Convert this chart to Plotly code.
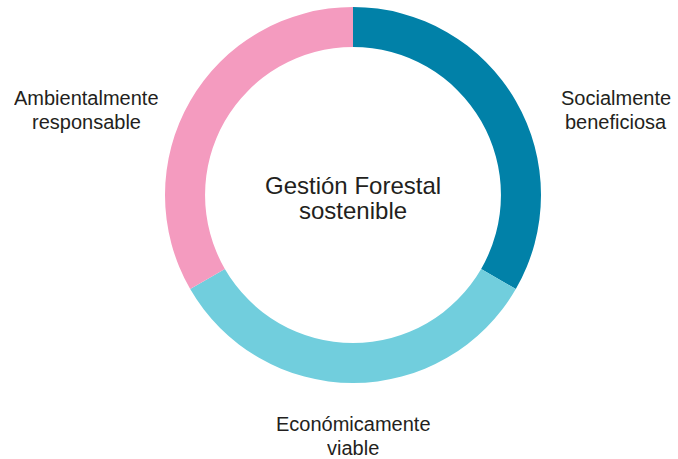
import plotly.graph_objects as go

categories = ["Socialmente beneficiosa", "Económicamente viable", "Ambientalmente responsable"]
values = [1, 1, 1]
colors = ["#0181A8", "#71CEDD", "#F49BBF"]
center_lines = ["Gestión Forestal", "sostenible"]

W, H = 678, 459
cx, cy, R = 353, 195, 188

fig = go.Figure(go.Pie(
    labels=categories, values=values, sort=False, direction="clockwise", rotation=0,
    hole=0.787, marker=dict(colors=colors, line=dict(width=0)),
    textinfo="none", hoverinfo="label", showlegend=False,
    domain=dict(x=[(cx - R) / W, (cx + R) / W], y=[(H - cy - R) / H, (H - cy + R) / H]),
))

font_family = "Liberation Sans, Arial, sans-serif"
txt_color = "#231F20"

def ann(text, x_px, y_px, size, height=None):
    fig.add_annotation(text=text, x=x_px / W, y=1 - y_px / H, xref="paper", yref="paper",
                       xanchor="center", yanchor="middle", showarrow=False, height=height,
                       font=dict(family=font_family, size=size, color=txt_color))

label_lines = [
    ("Socialmente", 616, 98), ("beneficiosa", 616, 122),
    ("Económicamente", 353, 424), ("viable", 353, 448),
    ("Ambientalmente", 86, 98), ("responsable", 86, 122),
]
for t, x, y in label_lines:
    ann(t, x, y, 20, height=22)

ann(center_lines[0], cx, 185, 24, height=22)
ann(center_lines[1], cx, 210, 24, height=22)

fig.update_layout(width=W, height=H, margin=dict(l=0, r=0, t=0, b=0),
                  paper_bgcolor="white", plot_bgcolor="white")
fig.write_html("out.html")
